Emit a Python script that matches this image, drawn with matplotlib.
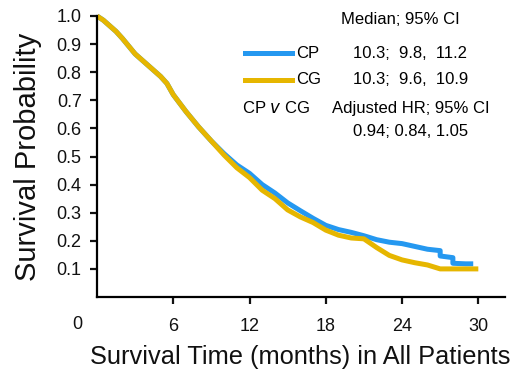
import matplotlib
matplotlib.use("Agg")
import matplotlib.pyplot as plt
from matplotlib.lines import Line2D

# Kaplan-Meier style curves (months, survival)
cp_time = [0, 0.5, 1, 1.5, 2, 3, 4, 5, 5.5, 6, 7, 8, 9, 10, 11, 12,
           13, 14, 15, 16, 17, 18, 19, 20, 21, 22, 23, 24, 25, 26, 27, 27, 28, 28, 29, 29.6]
cp_surv = [1.0, 0.985, 0.965, 0.945, 0.92, 0.865, 0.825, 0.785, 0.76, 0.72, 0.66, 0.605, 0.555, 0.51, 0.47, 0.44,
           0.40, 0.37, 0.335, 0.307, 0.28, 0.255, 0.24, 0.23, 0.218, 0.204, 0.195, 0.19, 0.18, 0.17, 0.165, 0.146, 0.14, 0.12, 0.118, 0.118]
cg_time = [0, 0.5, 1, 1.5, 2, 3, 4, 5, 5.5, 6, 7, 8, 9, 10, 11, 12,
           13, 14, 15, 16, 17, 18, 19, 20, 21, 22, 23, 24, 25, 26, 27, 28, 29, 30]
cg_surv = [1.0, 0.985, 0.965, 0.945, 0.92, 0.865, 0.825, 0.785, 0.76, 0.72, 0.66, 0.605, 0.555, 0.505, 0.46, 0.425,
           0.38, 0.35, 0.31, 0.285, 0.265, 0.238, 0.22, 0.21, 0.207, 0.176, 0.148, 0.132, 0.122, 0.114, 0.10, 0.10, 0.10, 0.10]

x_ticks = [6, 12, 18, 24, 30]
y_ticks = [0.1, 0.2, 0.3, 0.4, 0.5, 0.6, 0.7, 0.8, 0.9, 1.0]

BLUE = "#2598f0"
GOLD = "#e6b600"

W, H = 515, 383
fig = plt.figure(figsize=(W / 100, H / 100), dpi=100)
plt.rcParams['font.family'] = ['Liberation Sans', 'DejaVu Sans']

ax = fig.add_axes([97 / W, 1 - 297 / H, 408 / W, 281 / H])
ax.plot(cp_time, cp_surv, color=BLUE, lw=3.6, clip_on=False, solid_capstyle='butt')
ax.plot(cg_time, cg_surv, color=GOLD, lw=3.6, clip_on=False, solid_capstyle='butt')

ax.set_xlim(0, 32.1)
ax.set_ylim(0, 1.0)
ax.set_xticks(x_ticks)
ax.set_yticks(y_ticks)
ax.set_yticklabels([f"{v:.1f}" for v in y_ticks])
ax.spines['top'].set_visible(False)
ax.spines['right'].set_visible(False)
for s in ('left', 'bottom'):
    ax.spines[s].set_linewidth(1.6)
ax.tick_params(axis='both', direction='out', length=5, width=1.6, labelsize=13, colors='#111111')
ax.tick_params(axis='x', pad=10)
ax.tick_params(axis='y', pad=6)

# origin label sits apart from the axis corner
ax.annotate("0", xy=(0, 0), xytext=(-14.5, -20), textcoords='offset points',
            ha='center', va='center', fontsize=13, color='#111111', annotation_clip=False)

fig.text(300 / W, 1 - 357 / H, "Survival Time (months) in All Patients", ha='center', va='center',
         fontsize=18.3, color='#111111')
fig.text(28 / W, 1 - 157 / H, "Survival Probability", ha='center', va='center', rotation=90,
         fontsize=21, color='#111111')

# legend and statistics block
fs = 12
fig.text(400 / W, 1 - 20 / H, "Median; 95% CI", ha='center', va='center', fontsize=fs)
fig.add_artist(Line2D([245 / W, 292 / W], [1 - 53 / H, 1 - 53 / H], color=BLUE, lw=3.6))
fig.add_artist(Line2D([245 / W, 292 / W], [1 - 80 / H, 1 - 80 / H], color=GOLD, lw=3.6))
fig.text(296 / W, 1 - 53 / H, "CP", ha='left', va='center', fontsize=fs)
fig.text(296 / W, 1 - 80 / H, "CG", ha='left', va='center', fontsize=fs)
fig.text(353 / W, 1 - 53 / H, "10.3;  9.8,  11.2", ha='left', va='center', fontsize=fs)
fig.text(353 / W, 1 - 80 / H, "10.3;  9.6,  10.9", ha='left', va='center', fontsize=fs)
fig.text(242 / W, 1 - 108 / H, r"CP $\it{v}$ CG", ha='left', va='center', fontsize=fs)
fig.text(332 / W, 1 - 108 / H, "Adjusted HR; 95% CI", ha='left', va='center', fontsize=fs)
fig.text(353 / W, 1 - 132 / H, "0.94; 0.84, 1.05", ha='left', va='center', fontsize=fs)

fig.savefig("out.png", dpi=100)
